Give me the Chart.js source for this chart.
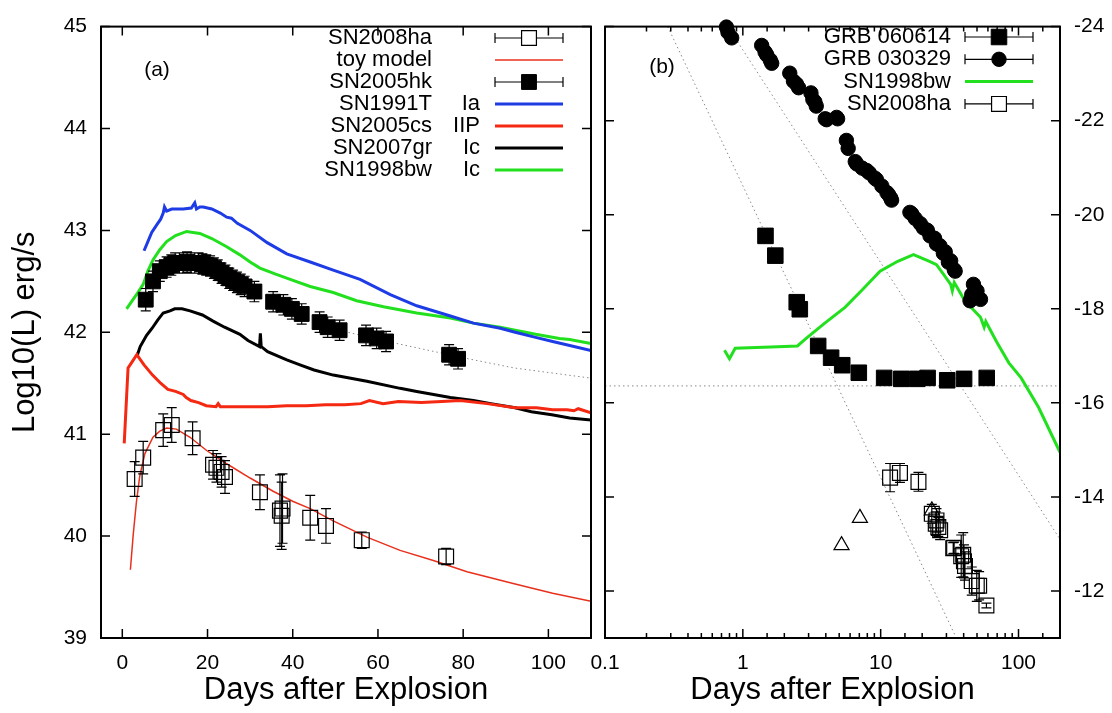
<!DOCTYPE html>
<html lang="en">
<head>
<meta charset="UTF-8">
<title>SN2008ha light curves</title>
<script src="https://cdn.jsdelivr.net/npm/chart.js@4.4.3/dist/chart.umd.min.js"></script>
<style>
  html, body { margin: 0; padding: 0; background: #fff; }
  .wrap { position: relative; width: 1112px; height: 713px; }
  canvas { position: absolute; left: 0; top: 0; }
</style>
</head>
<body>
<div class="wrap">
  <canvas id="panelA" width="1112" height="713"></canvas>
  <canvas id="panelB" width="1112" height="713"></canvas>
</div>
<script>
const FONT = "'Liberation Sans', Arial, Helvetica, sans-serif";

// ---- panel (a): log10 luminosity vs days ----
const dayTicksA = [0, 20, 40, 60, 80, 100];
const lumTicksA = [39, 40, 41, 42, 43, 44, 45];

const ha08Day = [2.9, 4.9, 9.6, 11.6, 16.5, 21.3, 22.1, 23.3, 24.1, 32.3, 37.0, 37.4, 37.6, 44.1, 47.8, 56.2, 76.0];
const ha08Lum = [40.56, 40.77, 41.04, 41.09, 40.96, 40.70, 40.67, 40.63, 40.58, 40.43, 40.25, 40.20, 40.27, 40.18, 40.10, 39.96, 39.80];
const ha08Err = [0.17, 0.16, 0.16, 0.17, 0.16, 0.14, 0.14, 0.15, 0.16, 0.17, 0.35, 0.33, 0.34, 0.22, 0.17, 0.08, 0.08];

const toyDay = [1.9, 2.55, 3.3, 4.1, 5.3, 7.2, 8.8, 10.4, 12.7, 15.9, 19.8, 24.5, 30.0, 35.4, 40.1, 44.1, 49.5, 57.4, 65.2, 73.0, 80.9, 92.2, 101.0, 110.0];
const toyLum = [39.67, 40.01, 40.33, 40.59, 40.81, 40.97, 41.03, 41.06, 41.05, 40.97, 40.84, 40.71, 40.57, 40.44, 40.34, 40.27, 40.15, 39.99, 39.86, 39.76, 39.65, 39.53, 39.44, 39.36];

const hk05Day = [5.5, 7.2, 8.8, 10.4, 11.5, 12.4, 13.4, 14.3, 15.2, 16.1, 17.0, 17.9, 18.8, 19.7, 20.6, 21.5, 22.4, 23.3, 24.2, 25.1, 26.0, 26.9, 27.8, 28.7, 31.0, 35.4, 37.8, 39.8, 42.1, 46.3, 48.2, 51.0, 57.2, 59.7, 61.9, 76.7, 78.8];
const hk05Lum = [42.32, 42.50, 42.60, 42.64, 42.66, 42.68, 42.68, 42.68, 42.69, 42.68, 42.68, 42.68, 42.67, 42.66, 42.65, 42.63, 42.61, 42.58, 42.56, 42.53, 42.51, 42.49, 42.47, 42.45, 42.40, 42.30, 42.27, 42.23, 42.18, 42.10, 42.05, 42.02, 41.97, 41.94, 41.91, 41.78, 41.74];
const hk05Err = [0.11, 0.10, 0.10, 0.10, 0.10, 0.10, 0.10, 0.10, 0.10, 0.10, 0.10, 0.10, 0.10, 0.10, 0.10, 0.10, 0.10, 0.10, 0.10, 0.10, 0.10, 0.10, 0.10, 0.10, 0.10, 0.10, 0.10, 0.10, 0.10, 0.10, 0.10, 0.10, 0.10, 0.10, 0.10, 0.10, 0.10];

const t91Day = [5.1, 6.0, 6.9, 8.0, 9.0, 9.6, 9.9, 10.4, 11.6, 13.0, 14.3, 16.2, 17.0, 17.4, 18.2, 19.0, 21.0, 23.0, 24.5, 25.6, 27.0, 30.0, 34.0, 38.6, 44.1, 49.5, 55.8, 62.9, 69.1, 77.0, 82.4, 88.7, 92.2, 97.0, 101.0, 105.0, 110.0];
const t91Lum = [42.80, 42.89, 42.98, 43.05, 43.11, 43.17, 43.23, 43.19, 43.21, 43.21, 43.21, 43.22, 43.27, 43.21, 43.23, 43.23, 43.21, 43.17, 43.13, 43.12, 43.07, 43.00, 42.88, 42.77, 42.69, 42.61, 42.52, 42.37, 42.26, 42.16, 42.09, 42.04, 42.00, 41.95, 41.91, 41.87, 41.82];

const cs05Day = [0.45, 1.35, 2.3, 3.4, 5.1, 7.1, 9.0, 10.7, 12.5, 14.3, 15.0, 16.1, 17.9, 19.7, 22.0, 22.5, 23.0, 25.1, 30.0, 34.1, 38.6, 43.2, 47.7, 52.2, 56.0, 58.0, 61.2, 64.8, 70.2, 75.0, 79.3, 85.6, 92.2, 97.2, 101.0, 104.4, 106.0, 107.0, 110.0];
const cs05Lum = [40.91, 41.65, 41.71, 41.78, 41.68, 41.58, 41.50, 41.44, 41.42, 41.39, 41.36, 41.33, 41.31, 41.28, 41.27, 41.30, 41.27, 41.27, 41.27, 41.27, 41.28, 41.28, 41.29, 41.29, 41.30, 41.33, 41.30, 41.32, 41.31, 41.32, 41.33, 41.30, 41.26, 41.26, 41.24, 41.24, 41.23, 41.25, 41.21];

const gr07Day = [3.4, 4.2, 5.7, 7.0, 8.3, 9.6, 11.2, 12.3, 14.0, 15.9, 18.8, 21.3, 24.0, 27.6, 29.5, 32.2, 32.4, 32.6, 34.1, 38.6, 41.7, 45.0, 49.5, 57.4, 65.2, 69.1, 77.0, 82.4, 86.5, 92.2, 96.0, 100.8, 105.0, 110.0];
const gr07Lum = [41.76, 41.86, 41.97, 42.04, 42.12, 42.19, 42.21, 42.23, 42.23, 42.21, 42.17, 42.11, 42.05, 41.98, 41.92, 41.86, 41.99, 41.86, 41.81, 41.73, 41.68, 41.63, 41.58, 41.52, 41.45, 41.42, 41.36, 41.33, 41.30, 41.26, 41.22, 41.19, 41.16, 41.14];

const bw98DayA = [1.0, 2.5, 3.5, 4.9, 6.0, 7.2, 8.8, 10.4, 12.5, 15.1, 18.2, 21.0, 24.5, 27.6, 30.0, 32.3, 36.0, 39.4, 44.1, 49.5, 55.0, 61.3, 69.1, 77.0, 82.4, 88.7, 92.2, 97.0, 102.6, 105.0, 110.0];
const bw98LumA = [42.23, 42.32, 42.38, 42.47, 42.60, 42.71, 42.81, 42.89, 42.95, 42.99, 42.97, 42.92, 42.84, 42.76, 42.69, 42.63, 42.57, 42.52, 42.45, 42.39, 42.31, 42.25, 42.19, 42.14, 42.09, 42.05, 42.02, 41.98, 41.94, 41.93, 41.89];

const fitDayA = [50, 60, 70, 80, 92, 110];
const fitLumA = [42.03, 41.93, 41.84, 41.75, 41.65, 41.55];

// ---- panel (b): absolute magnitude vs days (log) ----
const dayLabelsB = [0.1, 1, 10, 100];
const magTicksB = [-24, -22, -20, -18, -16, -14, -12];

const g060614Day = [1.46, 1.72, 2.46, 2.59, 3.52, 4.37, 5.26, 6.94, 10.6, 14.1, 18.4, 21.9, 30.4, 40.3, 58.8];
const g060614Mag = [-19.55, -19.13, -18.14, -17.99, -17.21, -16.96, -16.80, -16.64, -16.53, -16.51, -16.51, -16.53, -16.48, -16.51, -16.53];

const g030329Day = [0.76, 0.78, 0.83, 1.37, 1.45, 1.49, 1.58, 1.62, 2.19, 2.33, 2.45, 2.54, 3.12, 3.22, 3.33, 3.41, 3.96, 4.05, 4.79, 4.87, 5.64, 5.81, 6.54, 6.70, 7.35, 7.92, 8.27, 9.06, 9.30, 10.2, 11.1, 11.4, 11.8, 12.0, 16.3, 16.8, 17.8, 19.4, 20.4, 21.8, 22.8, 24.6, 25.4, 26.9, 28.5, 29.4, 31.0, 32.2, 34.2, 34.7, 44.5, 45.8, 47.1, 50.0, 53.0];
const g030329Mag = [-23.99, -23.88, -23.76, -23.60, -23.46, -23.40, -23.29, -23.22, -23.01, -22.84, -22.78, -22.70, -22.59, -22.45, -22.40, -22.31, -22.04, -22.02, -22.07, -22.04, -21.58, -21.41, -21.13, -21.08, -20.99, -20.94, -20.89, -20.78, -20.75, -20.61, -20.47, -20.43, -20.36, -20.31, -20.05, -20.02, -19.92, -19.81, -19.72, -19.67, -19.55, -19.50, -19.38, -19.34, -19.18, -19.21, -18.99, -19.02, -18.83, -18.80, -18.17, -18.30, -18.52, -18.38, -18.20];

const bw98DayB = [0.736, 0.80, 0.88, 1.60, 2.49, 2.88, 3.87, 5.51, 7.39, 9.9, 13.3, 17.3, 22.6, 25.4, 28.6, 32.2, 33.1, 34.2, 40.8, 53.0, 56.3, 57.9, 69.3, 85.1, 104.5, 140, 200];
const bw98MagB = [-17.12, -16.94, -17.16, -17.19, -17.21, -17.37, -17.68, -18.03, -18.41, -18.80, -19.01, -19.15, -19.01, -18.94, -18.73, -18.52, -18.38, -18.56, -18.17, -17.82, -17.61, -17.73, -17.30, -16.85, -16.53, -15.90, -14.95];

const ha08DayB = [11.7, 13.8, 18.8, 23.5, 25.1, 25.4, 26.2, 27.0, 33.6, 34.1, 38.4, 39.7, 40.2, 40.9, 45.8, 49.8, 51.8, 58.5];
const ha08MagB = [-14.41, -14.51, -14.32, -13.64, -13.43, -13.50, -13.36, -13.29, -12.91, -12.92, -12.74, -12.77, -12.63, -12.53, -12.21, -12.11, -12.11, -11.69];
const ha08ErrB = [0.30, 0.20, 0.20, 0.20, 0.25, 0.25, 0.20, 0.20, 0.12, 0.12, 0.45, 0.47, 0.35, 0.30, 0.30, 0.33, 0.30, 0.05];

const triDay = [5.2, 7.07, 23.5];
const triMag = [-12.97, -13.55, -13.71];

const decayDay1 = [0.285, 35.4];
const decayMag1 = [-24, -11];
const decayDay2 = [0.777, 200];
const decayMag2 = [-24, -13.1];
const hostDay = [0.1, 200];
const hostMag = [-16.36, -16.36];

const pts = (xs, ys) => xs.map((x, i) => ({ x: x, y: ys[i] }));

function markerPath(ctx, style, x, y, r) {
    ctx.beginPath();
    if (style === 'circle') {
        ctx.arc(x, y, r, 0, Math.PI * 2);
    } else if (style === 'triangle') {
        ctx.moveTo(x, y - r);
        ctx.lineTo(x + r * Math.sin(Math.PI / 3), y + r / 2);
        ctx.lineTo(x - r * Math.sin(Math.PI / 3), y + r / 2);
    } else {
        const h = r * Math.SQRT1_2;
        ctx.rect(x - h, y - h, 2 * h, 2 * h);
    }
    ctx.closePath();
}

// vertical error bars with caps
const errorBars = {
    id: 'errorBars',
    afterDatasetsDraw(chart) {
        const ctx = chart.ctx, xs = chart.scales.x, ys = chart.scales.y;
        chart.data.datasets.forEach(ds => {
            if (!ds.yErr) return;
            ctx.save();
            ctx.strokeStyle = '#000';
            ctx.lineWidth = 1.2;
            ctx.beginPath();
            ds.data.forEach((p, i) => {
                const e = ds.yErr[i];
                const px = xs.getPixelForValue(p.x);
                const y1 = ys.getPixelForValue(p.y - e);
                const y2 = ys.getPixelForValue(p.y + e);
                ctx.moveTo(px, y1); ctx.lineTo(px, y2);
                ctx.moveTo(px - 5, y1); ctx.lineTo(px + 5, y1);
                ctx.moveTo(px - 5, y2); ctx.lineTo(px + 5, y2);
            });
            ctx.stroke();
            ctx.restore();
        });
    }
};

// gnuplot style border with inward ticks on all four sides
const frameTicks = {
    id: 'frameTicks',
    afterDraw(chart, args, o) {
        const ctx = chart.ctx, a = chart.chartArea;
        const xs = chart.scales.x, ys = chart.scales.y;
        ctx.save();
        ctx.strokeStyle = '#000';
        ctx.lineWidth = 2;
        ctx.strokeRect(a.left, a.top, a.right - a.left, a.bottom - a.top);
        ctx.lineWidth = 1.5;
        ctx.beginPath();
        xs.ticks.forEach(t => {
            const px = xs.getPixelForValue(t.value);
            const major = o.majorX.some(v => Math.abs(v - t.value) < 1e-6 * Math.max(1, Math.abs(v)));
            const len = major ? 9 : 5;
            ctx.moveTo(px, a.bottom); ctx.lineTo(px, a.bottom - len);
            ctx.moveTo(px, a.top); ctx.lineTo(px, a.top + len);
        });
        ys.ticks.forEach(t => {
            const py = ys.getPixelForValue(t.value);
            ctx.moveTo(a.left, py); ctx.lineTo(a.left + 9, py);
            ctx.moveTo(a.right, py); ctx.lineTo(a.right - 9, py);
        });
        ctx.stroke();
        ctx.font = `21px ${FONT}`;
        ctx.fillStyle = '#000';
        ctx.textAlign = 'center';
        ctx.textBaseline = 'middle';
        ctx.fillText(o.tag, o.tagX, o.tagY);
        ctx.restore();
    }
};

// right-justified key with samples, like the gnuplot key
const gnuKey = {
    id: 'gnuKey',
    afterDraw(chart, args, o) {
        const ctx = chart.ctx;
        ctx.save();
        ctx.font = `22px ${FONT}`;
        ctx.textBaseline = 'middle';
        ctx.textAlign = 'right';
        chart.data.datasets.forEach(ds => {
            if (ds.keyRow === undefined) return;
            const y = o.top + ds.keyRow * o.step;
            ctx.fillStyle = '#000';
            ctx.fillText(ds.label, o.nameX, y);
            if (ds.keyType) ctx.fillText(ds.keyType, o.typeX, y);
            if (ds.keyErr) {
                const cx = (o.x0 + o.x1) / 2;
                ctx.strokeStyle = '#000';
                ctx.lineWidth = 1.2;
                ctx.beginPath();
                ctx.moveTo(o.x0, y); ctx.lineTo(o.x1, y);
                ctx.moveTo(o.x0, y - 5); ctx.lineTo(o.x0, y + 5);
                ctx.moveTo(o.x1, y - 5); ctx.lineTo(o.x1, y + 5);
                ctx.stroke();
                markerPath(ctx, ds.pointStyle, cx, y, ds.pointRadius);
                ctx.fillStyle = ds.keyFill || ds.backgroundColor;
                ctx.fill();
                ctx.lineWidth = ds.borderWidth;
                ctx.strokeStyle = ds.borderColor;
                ctx.stroke();
            } else {
                ctx.strokeStyle = ds.borderColor;
                ctx.lineWidth = ds.borderWidth;
                ctx.beginPath();
                ctx.moveTo(o.x0, y); ctx.lineTo(o.x1, y);
                ctx.stroke();
            }
        });
        ctx.restore();
    }
};

const tickFont = { family: FONT, size: 21 };
const titleFont = { family: FONT, size: 31 };

function curve(label, xs, ys, color, width, extra) {
    return Object.assign({
        label: label, data: pts(xs, ys), showLine: true, pointRadius: 0,
        borderColor: color, backgroundColor: color, borderWidth: width, tension: 0
    }, extra || {});
}

// ---- chart (a) ----
new Chart(document.getElementById('panelA'), {
    type: 'scatter',
    data: {
        datasets: [
            { label: 'SN2008ha', data: pts(ha08Day, ha08Lum), yErr: ha08Err, pointStyle: 'rect', pointRadius: 10.5,
              borderColor: '#000', backgroundColor: 'rgba(0,0,0,0)', keyFill: '#fff', borderWidth: 1.2, keyRow: 0, keyErr: true },
            curve('toy model', toyDay, toyLum, '#e8301c', 1.5, { keyRow: 1 }),
            { label: 'SN2005hk', data: pts(hk05Day, hk05Lum), yErr: hk05Err, pointStyle: 'rect', pointRadius: 10.5,
              borderColor: '#000', backgroundColor: '#000', borderWidth: 1, keyRow: 2, keyErr: true },
            curve('SN1991T', t91Day, t91Lum, '#1e3ce6', 3, { keyRow: 3, keyType: 'Ia' }),
            curve('SN2005cs', cs05Day, cs05Lum, '#f52812', 3, { keyRow: 4, keyType: 'IIP' }),
            curve('SN2007gr', gr07Day, gr07Lum, '#000000', 3, { keyRow: 5, keyType: 'Ic' }),
            curve('SN1998bw', bw98DayA, bw98LumA, '#22e01e', 3, { keyRow: 6, keyType: 'Ic' }),
            curve('fit', fitDayA, fitLumA, '#8a8a8a', 1, { borderDash: [1.5, 3] })
        ]
    },
    options: {
        responsive: false,
        animation: false,
        events: [],
        layout: { padding: { left: 0, top: 16, right: 521, bottom: 0 } },
        plugins: {
            legend: { display: false },
            tooltip: { enabled: false },
            frameTicks: { majorX: dayTicksA, tag: '(a)', tagX: 157, tagY: 70 },
            gnuKey: { top: 38, step: 22, nameX: 432, typeX: 480, x0: 495, x1: 563 }
        },
        scales: {
            x: {
                type: 'linear', min: -5, max: 110,
                afterBuildTicks: s => { s.ticks = dayTicksA.map(v => ({ value: v })); },
                afterFit: s => { s.height = 75; },
                grid: { display: false, drawTicks: false },
                border: { display: false },
                ticks: { font: tickFont, color: '#000', padding: 13, maxRotation: 0, autoSkip: false },
                title: { display: true, text: 'Days after Explosion', font: titleFont, color: '#000', padding: { top: 0, bottom: 4 } }
            },
            y: {
                type: 'linear', min: 39, max: 45,
                afterBuildTicks: s => { s.ticks = lumTicksA.map(v => ({ value: v })); },
                afterFit: s => { s.width = 101; },
                grid: { display: false, drawTicks: false },
                border: { display: false },
                ticks: { font: tickFont, color: '#000', padding: 14, autoSkip: false },
                title: { display: true, text: 'Log10(L) erg/s', font: titleFont, color: '#000', padding: { top: 7, bottom: 0 } }
            }
        }
    },
    plugins: [errorBars, frameTicks, gnuKey]
});

// ---- chart (b) ----
new Chart(document.getElementById('panelB'), {
    type: 'scatter',
    data: {
        datasets: [
            { label: 'GRB 060614', data: pts(g060614Day, g060614Mag), pointStyle: 'rect', pointRadius: 11,
              borderColor: '#000', backgroundColor: '#000', borderWidth: 1, keyRow: 0, keyErr: true },
            { label: 'GRB 030329', data: pts(g030329Day, g030329Mag), pointStyle: 'circle', pointRadius: 7.2,
              borderColor: '#000', backgroundColor: '#000', borderWidth: 1, keyRow: 1, keyErr: true, clip: false },
            curve('SN1998bw', bw98DayB, bw98MagB, '#22e01e', 3, { keyRow: 2 }),
            { label: 'SN2008ha', data: pts(ha08DayB, ha08MagB), yErr: ha08ErrB, pointStyle: 'rect', pointRadius: 10.5,
              borderColor: '#000', backgroundColor: 'rgba(0,0,0,0)', keyFill: '#fff', borderWidth: 1.2, keyRow: 3, keyErr: true },
            { label: 'early SN2008ha', data: pts(triDay, triMag), pointStyle: 'triangle', pointRadius: 8.7,
              borderColor: '#000', backgroundColor: 'rgba(0,0,0,0)', borderWidth: 1.2 },
            curve('decay 1', decayDay1, decayMag1, '#8a8a8a', 1, { borderDash: [1.5, 3] }),
            curve('decay 2', decayDay2, decayMag2, '#8a8a8a', 1, { borderDash: [1.5, 3] }),
            curve('host', hostDay, hostMag, '#8a8a8a', 1, { borderDash: [1.5, 3] })
        ]
    },
    options: {
        responsive: false,
        animation: false,
        events: [],
        layout: { padding: { left: 605, top: 16, right: 0, bottom: 0 } },
        plugins: {
            legend: { display: false },
            tooltip: { enabled: false },
            frameTicks: { majorX: dayLabelsB, tag: '(b)', tagX: 662, tagY: 67 },
            gnuKey: { top: 37, step: 22.3, nameX: 951, typeX: 951, x0: 965, x1: 1033 }
        },
        scales: {
            x: {
                type: 'logarithmic', min: 0.1, max: 200,
                afterFit: s => { s.height = 75; },
                grid: { display: false, drawTicks: false },
                border: { display: false },
                ticks: {
                    font: tickFont, color: '#000', padding: 13, maxRotation: 0, autoSkip: false,
                    callback: v => dayLabelsB.some(d => Math.abs(d - v) < 1e-9) ? String(v) : ''
                },
                title: { display: true, text: 'Days after Explosion', font: titleFont, color: '#000', padding: { top: 0, bottom: 4 } }
            },
            y: {
                type: 'linear', position: 'right', reverse: true, min: -24, max: -11,
                afterBuildTicks: s => { s.ticks = magTicksB.map(v => ({ value: v })); },
                afterFit: s => { s.width = 52; },
                grid: { display: false, drawTicks: false },
                border: { display: false },
                ticks: { font: tickFont, color: '#000', padding: 14, autoSkip: false }
            }
        }
    },
    plugins: [errorBars, frameTicks, gnuKey]
});
</script>
</body>
</html>
